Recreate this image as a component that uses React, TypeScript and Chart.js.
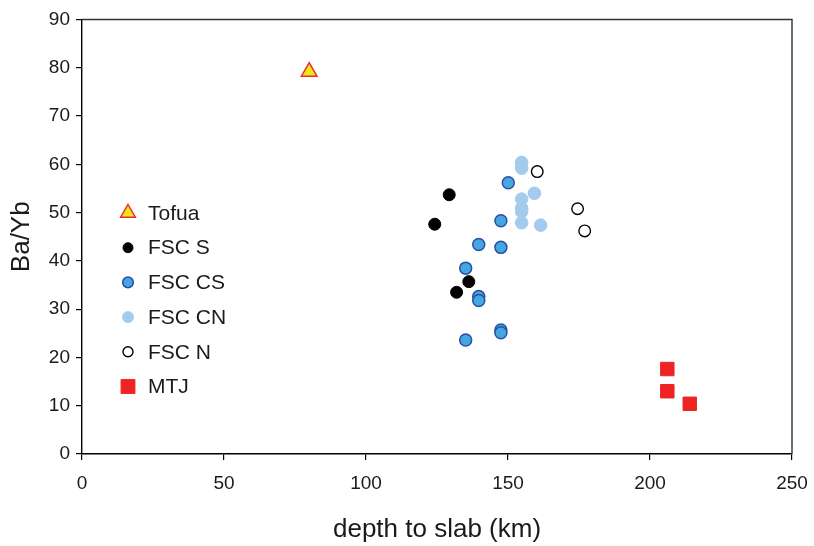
import React, { useEffect, useRef } from "react";
import { Chart, registerables } from "chart.js";

Chart.register(...registerables);

const seriesNames = ["Tofua", "FSC S", "FSC CS", "FSC CN", "FSC N", "MTJ"];

const tofuaDepth = [80];
const tofuaBaYb = [79.2];

const fscSDepth = [129.3, 124.2, 136.2, 131.9];
const fscSBaYb = [53.7, 47.6, 35.7, 33.5];

const fscCSDepth = [150.1, 147.5, 139.7, 147.5, 135.1, 139.7, 139.7, 147.5, 147.5, 135.1];
const fscCSBaYb = [56.2, 48.3, 43.4, 42.8, 38.5, 32.6, 31.8, 25.7, 25.1, 23.6];

const fscCNDepth = [154.8, 154.8, 154.8, 154.8, 154.8, 154.8, 159.3, 161.5];
const fscCNBaYb = [60.4, 59.2, 52.8, 50.9, 50.2, 47.9, 54.0, 47.4];

const fscNDepth = [160.3, 174.5, 177.0];
const fscNBaYb = [58.5, 50.8, 46.2];

const mtjDepth = [206.1, 206.1, 214.0];
const mtjBaYb = [17.6, 13.0, 10.4];

const xTicks = [0, 50, 100, 150, 200, 250];
const yTicks = [0, 10, 20, 30, 40, 50, 60, 70, 80, 90];

const xTitle = "depth to slab (km)";
const yTitle = "Ba/Yb";

const FONT = "'Liberation Sans', Arial, sans-serif";

const pts = (xs: number[], ys: number[]) => xs.map((x, i) => ({ x, y: ys[i] }));

type Style = {
  shape: string;
  fill: string;
  stroke: string;
  bw: number;
  r: number;
  lr: number;
};

const styles: Style[] = [
  { shape: "triangle", fill: "#f2e41c", stroke: "#ec2a2a", bw: 1.5, r: 9, lr: 8.5 },
  { shape: "circle", fill: "#000000", stroke: "#000000", bw: 1, r: 6, lr: 5 },
  { shape: "circle", fill: "#45a6e2", stroke: "#2a4fa6", bw: 1.5, r: 6, lr: 5.3 },
  { shape: "circle", fill: "#a3cbed", stroke: "#a3cbed", bw: 1, r: 6.3, lr: 5.5 },
  { shape: "circle", fill: "#ffffff", stroke: "#000000", bw: 1.4, r: 5.8, lr: 5 },
  { shape: "rect", fill: "#ee2424", stroke: "#ee2424", bw: 1, r: 9.5, lr: 9.8 },
];

function drawMarker(ctx: CanvasRenderingContext2D, s: Style, x: number, y: number, r: number) {
  ctx.save();
  ctx.fillStyle = s.fill;
  ctx.strokeStyle = s.stroke;
  ctx.lineWidth = s.bw;
  ctx.beginPath();
  if (s.shape === "circle") {
    ctx.arc(x, y, r, 0, Math.PI * 2);
  } else if (s.shape === "triangle") {
    ctx.moveTo(x, y - r);
    ctx.lineTo(x + 0.866 * r, y + r / 2);
    ctx.lineTo(x - 0.866 * r, y + r / 2);
    ctx.closePath();
  } else {
    const h = r * Math.SQRT1_2;
    ctx.rect(x - h, y - h, 2 * h, 2 * h);
  }
  ctx.fill();
  ctx.stroke();
  ctx.restore();
}

const framePlugin = {
  id: "frame",
  afterDatasetsDraw(chart: any) {
    const { ctx, chartArea } = chart;
    const { left, top, right, bottom } = chartArea;
    ctx.save();
    ctx.lineWidth = 1.4;
    ctx.strokeStyle = "#333333";
    ctx.beginPath();
    ctx.moveTo(left, top);
    ctx.lineTo(right, top);
    ctx.lineTo(right, bottom);
    ctx.stroke();
    ctx.restore();

    // legend
    const lx = left + 46;
    const ly0 = top + 193.5;
    const step = 34.7;
    ctx.save();
    ctx.font = `21px ${FONT}`;
    ctx.fillStyle = "#1a1a1a";
    ctx.textBaseline = "middle";
    ctx.textAlign = "left";
    seriesNames.forEach((name, i) => {
      const y = ly0 + i * step;
      drawMarker(ctx, styles[i], lx, y, styles[i].lr);
      ctx.fillText(name, lx + 20, y + 1);
    });
    ctx.restore();
  },
};

export default function App() {
  const ref = useRef<HTMLCanvasElement | null>(null);

  useEffect(() => {
    if (!ref.current) return;
    const dataSets = [
      pts(tofuaDepth, tofuaBaYb),
      pts(fscSDepth, fscSBaYb),
      pts(fscCSDepth, fscCSBaYb),
      pts(fscCNDepth, fscCNBaYb),
      pts(fscNDepth, fscNBaYb),
      pts(mtjDepth, mtjBaYb),
    ];
    const chart = new Chart(ref.current, {
      type: "scatter",
      data: {
        datasets: dataSets.map((d, i) => ({
          label: seriesNames[i],
          data: d,
          pointStyle: styles[i].shape,
          pointRadius: styles[i].r,
          pointBackgroundColor: styles[i].fill,
          pointBorderColor: styles[i].stroke,
          pointBorderWidth: styles[i].bw,
          showLine: false,
        })),
      },
      options: {
        animation: false,
        responsive: false,
        maintainAspectRatio: false,
        devicePixelRatio: 1,
        layout: { padding: { top: 19.5, right: 22, left: 0, bottom: 0 } },
        plugins: { legend: { display: false }, tooltip: { enabled: false } },
        scales: {
          x: {
            type: "linear",
            min: 0,
            max: 250,
            afterBuildTicks: (s: any) => {
              s.ticks = xTicks.map((v) => ({ value: v }));
            },
            afterFit: (s: any) => {
              s.height = 92;
              s.paddingLeft = 0;
              s.paddingRight = 0;
            },
            grid: { drawOnChartArea: false, drawTicks: true, tickLength: 6, color: "#000000", lineWidth: 1.2 },
            border: { display: true, color: "#000000", width: 1.4 },
            ticks: { color: "#1a1a1a", font: { family: FONT, size: 19 }, padding: 12, maxRotation: 0 },
            title: {
              display: true,
              text: xTitle,
              color: "#1a1a1a",
              font: { family: FONT, size: 26 },
              padding: { top: 0, bottom: 1 },
            },
          },
          y: {
            type: "linear",
            min: 0,
            max: 90,
            afterBuildTicks: (s: any) => {
              s.ticks = yTicks.map((v) => ({ value: v }));
            },
            afterFit: (s: any) => {
              s.width = 82;
              s.paddingTop = 0;
              s.paddingBottom = 0;
            },
            grid: { drawOnChartArea: false, drawTicks: true, tickLength: 6, color: "#000000", lineWidth: 1.2 },
            border: { display: true, color: "#000000", width: 1.4 },
            ticks: { color: "#1a1a1a", font: { family: FONT, size: 19 }, padding: 6 },
            title: {
              display: true,
              text: yTitle,
              color: "#1a1a1a",
              font: { family: FONT, size: 26 },
              padding: { top: 6, bottom: 0 },
            },
          },
        },
      },
      plugins: [framePlugin],
    } as any);
    return () => chart.destroy();
  }, []);

  return (
    <div style={{ position: "fixed", left: 0, top: 0, width: 814, height: 546, background: "#ffffff" }}>
      <canvas ref={ref} width={814} height={546} style={{ width: 814, height: 546, display: "block" }} />
    </div>
  );
}
